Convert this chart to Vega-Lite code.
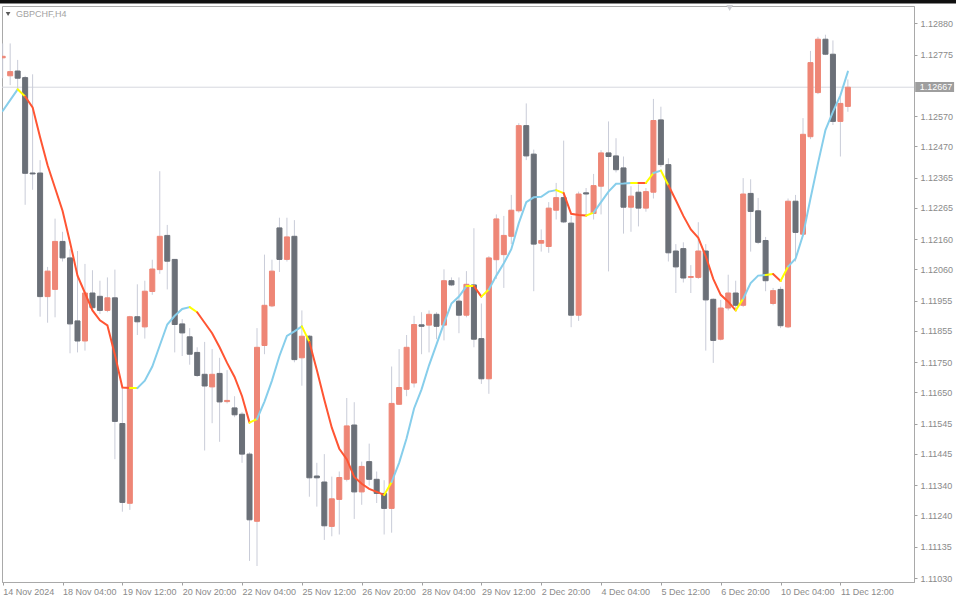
{
"$schema": "https://vega.github.io/schema/vega-lite/v6.json",
"width": 912, "height": 576,
"autosize": {"type": "none"},
"padding": {"left": 2, "top": 6, "right": 42, "bottom": 16},
"background": "#ffffff",
"config": {"view": {"stroke": "#a9a9a9", "strokeWidth": 1}, "font": "Liberation Sans", "axis": {"labelOverlap": false, "labelFlush": false, "labelBound": false}, "scale": {"continuousPadding": 0}},
"datasets": {
"one": [{}],
"candles": [
{"i":0,"o":1.12765,"h":1.12813,"l":1.12697,"c":1.12770},
{"i":1,"o":1.12705,"h":1.12813,"l":1.12674,"c":1.12719},
{"i":2,"o":1.12721,"h":1.12758,"l":1.12664,"c":1.12697},
{"i":3,"o":1.12699,"h":1.12705,"l":1.12275,"c":1.12380},
{"i":4,"o":1.12381,"h":1.12710,"l":1.12325,"c":1.12378},
{"i":5,"o":1.12381,"h":1.12424,"l":1.11902,"c":1.11969},
{"i":6,"o":1.11969,"h":1.12068,"l":1.11882,"c":1.12054},
{"i":7,"o":1.11993,"h":1.12229,"l":1.11900,"c":1.12153},
{"i":8,"o":1.12153,"h":1.12185,"l":1.12086,"c":1.12098},
{"i":9,"o":1.12098,"h":1.12127,"l":1.11780,"c":1.11878},
{"i":10,"o":1.11888,"h":1.12121,"l":1.11783,"c":1.11821},
{"i":11,"o":1.11821,"h":1.12078,"l":1.11789,"c":1.11981},
{"i":12,"o":1.11981,"h":1.12057,"l":1.11923,"c":1.11932},
{"i":13,"o":1.11970,"h":1.12022,"l":1.11911,"c":1.11923},
{"i":14,"o":1.11923,"h":1.12033,"l":1.11917,"c":1.11965},
{"i":15,"o":1.11965,"h":1.12059,"l":1.11427,"c":1.11553},
{"i":16,"o":1.11546,"h":1.11666,"l":1.11252,"c":1.11283},
{"i":17,"o":1.11280,"h":1.11905,"l":1.11258,"c":1.11902},
{"i":18,"o":1.11902,"h":1.12010,"l":1.11841,"c":1.11885},
{"i":19,"o":1.11868,"h":1.12022,"l":1.11829,"c":1.11987},
{"i":20,"o":1.11986,"h":1.12092,"l":1.11975,"c":1.12061},
{"i":21,"o":1.12059,"h":1.12387,"l":1.12045,"c":1.12170},
{"i":22,"o":1.12173,"h":1.12208,"l":1.11993,"c":1.12087},
{"i":23,"o":1.12093,"h":1.12093,"l":1.11783,"c":1.11876},
{"i":24,"o":1.11878,"h":1.11894,"l":1.11771,"c":1.11848},
{"i":25,"o":1.11835,"h":1.11864,"l":1.11742,"c":1.11777},
{"i":26,"o":1.11783,"h":1.11800,"l":1.11701,"c":1.11706},
{"i":27,"o":1.11710,"h":1.11818,"l":1.11456,"c":1.11671},
{"i":28,"o":1.11668,"h":1.11794,"l":1.11547,"c":1.11710},
{"i":29,"o":1.11713,"h":1.11765,"l":1.11485,"c":1.11618},
{"i":30,"o":1.11619,"h":1.11724,"l":1.11613,"c":1.11623},
{"i":31,"o":1.11598,"h":1.11637,"l":1.11567,"c":1.11575},
{"i":32,"o":1.11577,"h":1.11584,"l":1.11415,"c":1.11444},
{"i":33,"o":1.11444,"h":1.11450,"l":1.11088,"c":1.11225},
{"i":34,"o":1.11220,"h":1.11864,"l":1.11071,"c":1.11800},
{"i":35,"o":1.11806,"h":1.12109,"l":1.11777,"c":1.11940},
{"i":36,"o":1.11938,"h":1.12092,"l":1.11934,"c":1.12054},
{"i":37,"o":1.12198,"h":1.12232,"l":1.12051,"c":1.12093},
{"i":38,"o":1.12093,"h":1.12232,"l":1.12086,"c":1.12168},
{"i":39,"o":1.12170,"h":1.12224,"l":1.11750,"c":1.11759},
{"i":40,"o":1.11765,"h":1.11923,"l":1.11672,"c":1.11837},
{"i":41,"o":1.11837,"h":1.11841,"l":1.11302,"c":1.11365},
{"i":42,"o":1.11371,"h":1.11415,"l":1.11269,"c":1.11365},
{"i":43,"o":1.11351,"h":1.11444,"l":1.11158,"c":1.11205},
{"i":44,"o":1.11203,"h":1.11369,"l":1.11170,"c":1.11295},
{"i":45,"o":1.11293,"h":1.11386,"l":1.11176,"c":1.11366},
{"i":46,"o":1.11360,"h":1.11631,"l":1.11353,"c":1.11538},
{"i":47,"o":1.11541,"h":1.11617,"l":1.11228,"c":1.11318},
{"i":48,"o":1.11318,"h":1.11419,"l":1.11275,"c":1.11403},
{"i":49,"o":1.11419,"h":1.11479,"l":1.11339,"c":1.11360},
{"i":50,"o":1.11360,"h":1.11386,"l":1.11281,"c":1.11313},
{"i":51,"o":1.11313,"h":1.11357,"l":1.11176,"c":1.11263},
{"i":52,"o":1.11263,"h":1.11736,"l":1.11182,"c":1.11613},
{"i":53,"o":1.11610,"h":1.11794,"l":1.11608,"c":1.11666},
{"i":54,"o":1.11660,"h":1.11841,"l":1.11637,"c":1.11800},
{"i":55,"o":1.11681,"h":1.11905,"l":1.11666,"c":1.11876},
{"i":56,"o":1.11875,"h":1.11917,"l":1.11777,"c":1.11870},
{"i":57,"o":1.11874,"h":1.11923,"l":1.11783,"c":1.11910},
{"i":58,"o":1.11910,"h":1.11917,"l":1.11827,"c":1.11870},
{"i":59,"o":1.11874,"h":1.12060,"l":1.11823,"c":1.12022},
{"i":60,"o":1.12022,"h":1.12033,"l":1.12004,"c":1.12008},
{"i":61,"o":1.11954,"h":1.12033,"l":1.11847,"c":1.11907},
{"i":62,"o":1.11907,"h":1.12054,"l":1.11900,"c":1.12010},
{"i":63,"o":1.12008,"h":1.12197,"l":1.11800,"c":1.11827},
{"i":64,"o":1.11829,"h":1.11946,"l":1.11678,"c":1.11695},
{"i":65,"o":1.11695,"h":1.12104,"l":1.11645,"c":1.12098},
{"i":66,"o":1.12092,"h":1.12243,"l":1.12028,"c":1.12228},
{"i":67,"o":1.12109,"h":1.12238,"l":1.11998,"c":1.12173},
{"i":68,"o":1.12170,"h":1.12308,"l":1.12144,"c":1.12257},
{"i":69,"o":1.12255,"h":1.12547,"l":1.12249,"c":1.12539},
{"i":70,"o":1.12539,"h":1.12613,"l":1.12424,"c":1.12438},
{"i":71,"o":1.12444,"h":1.12459,"l":1.11987,"c":1.12144},
{"i":72,"o":1.12147,"h":1.12193,"l":1.12119,"c":1.12156},
{"i":73,"o":1.12136,"h":1.12284,"l":1.12115,"c":1.12264},
{"i":74,"o":1.12257,"h":1.12348,"l":1.12226,"c":1.12299},
{"i":75,"o":1.12299,"h":1.12489,"l":1.12214,"c":1.12218},
{"i":76,"o":1.12214,"h":1.12238,"l":1.11867,"c":1.11907},
{"i":77,"o":1.11907,"h":1.12319,"l":1.11888,"c":1.12311},
{"i":78,"o":1.12315,"h":1.12331,"l":1.12238,"c":1.12311},
{"i":79,"o":1.12246,"h":1.12378,"l":1.12226,"c":1.12339},
{"i":80,"o":1.12337,"h":1.12457,"l":1.12243,"c":1.12448},
{"i":81,"o":1.12448,"h":1.12553,"l":1.12053,"c":1.12436},
{"i":82,"o":1.12438,"h":1.12497,"l":1.12383,"c":1.12392},
{"i":83,"o":1.12398,"h":1.12436,"l":1.12179,"c":1.12267},
{"i":84,"o":1.12267,"h":1.12337,"l":1.12185,"c":1.12304},
{"i":85,"o":1.12317,"h":1.12343,"l":1.12203,"c":1.12264},
{"i":86,"o":1.12264,"h":1.12331,"l":1.12252,"c":1.12319},
{"i":87,"o":1.12317,"h":1.12628,"l":1.12296,"c":1.12556},
{"i":88,"o":1.12558,"h":1.12602,"l":1.12401,"c":1.12409},
{"i":89,"o":1.12409,"h":1.12430,"l":1.12086,"c":1.12115},
{"i":90,"o":1.12121,"h":1.12144,"l":1.11981,"c":1.12068},
{"i":91,"o":1.12129,"h":1.12150,"l":1.12016,"c":1.12031},
{"i":92,"o":1.12033,"h":1.12074,"l":1.11981,"c":1.12036},
{"i":93,"o":1.12033,"h":1.12217,"l":1.12028,"c":1.12121},
{"i":94,"o":1.12121,"h":1.12144,"l":1.11789,"c":1.11958},
{"i":95,"o":1.11960,"h":1.11963,"l":1.11748,"c":1.11823},
{"i":96,"o":1.11827,"h":1.11958,"l":1.11823,"c":1.11931},
{"i":97,"o":1.11931,"h":1.12042,"l":1.11923,"c":1.11981},
{"i":98,"o":1.11981,"h":1.12022,"l":1.11923,"c":1.11940},
{"i":99,"o":1.11940,"h":1.12364,"l":1.11934,"c":1.12311},
{"i":100,"o":1.12313,"h":1.12360,"l":1.12119,"c":1.12253},
{"i":101,"o":1.12255,"h":1.12298,"l":1.12144,"c":1.12150},
{"i":102,"o":1.12156,"h":1.12168,"l":1.11987,"c":1.12022},
{"i":103,"o":1.11946,"h":1.11998,"l":1.11940,"c":1.11989},
{"i":104,"o":1.11993,"h":1.12002,"l":1.11864,"c":1.11872},
{"i":105,"o":1.11868,"h":1.12296,"l":1.11864,"c":1.12287},
{"i":106,"o":1.12287,"h":1.12308,"l":1.12086,"c":1.12183},
{"i":107,"o":1.12177,"h":1.12564,"l":1.12173,"c":1.12510},
{"i":108,"o":1.12502,"h":1.12788,"l":1.12494,"c":1.12749},
{"i":109,"o":1.12649,"h":1.12835,"l":1.12644,"c":1.12827},
{"i":110,"o":1.12827,"h":1.12842,"l":1.12774,"c":1.12777},
{"i":111,"o":1.12777,"h":1.12823,"l":1.12541,"c":1.12553},
{"i":112,"o":1.12553,"h":1.12637,"l":1.12436,"c":1.12613},
{"i":113,"o":1.12603,"h":1.12693,"l":1.12585,"c":1.12667}
],
"ma": [
{"r":"A","t":"up","i":0,"v":1.12588},{"r":"A","t":"up","i":1,"v":1.12624},{"r":"A","t":"up","i":2,"v":1.12660},
{"r":"B","t":"turn","i":2,"v":1.12660},{"r":"B","t":"turn","i":3,"v":1.12636},
{"r":"C","t":"down","i":3,"v":1.12636},{"r":"C","t":"down","i":4,"v":1.12600},{"r":"C","t":"down","i":5,"v":1.12500},{"r":"C","t":"down","i":6,"v":1.12407},{"r":"C","t":"down","i":7,"v":1.12331},{"r":"C","t":"down","i":8,"v":1.12255},{"r":"C","t":"down","i":9,"v":1.12150},{"r":"C","t":"down","i":10,"v":1.12039},{"r":"C","t":"down","i":11,"v":1.11981},{"r":"C","t":"down","i":12,"v":1.11923},{"r":"C","t":"down","i":13,"v":1.11890},{"r":"C","t":"down","i":14,"v":1.11873},{"r":"C","t":"down","i":15,"v":1.11775},{"r":"C","t":"down","i":16,"v":1.11666},{"r":"C","t":"down","i":17,"v":1.11664},
{"r":"D","t":"turn","i":17,"v":1.11664},{"r":"D","t":"turn","i":18,"v":1.11664},
{"r":"E","t":"up","i":18,"v":1.11664},{"r":"E","t":"up","i":19,"v":1.11689},{"r":"E","t":"up","i":20,"v":1.11736},{"r":"E","t":"up","i":21,"v":1.11806},{"r":"E","t":"up","i":22,"v":1.11876},{"r":"E","t":"up","i":23,"v":1.11905},{"r":"E","t":"up","i":24,"v":1.11928},{"r":"E","t":"up","i":25,"v":1.11934},
{"r":"F","t":"turn","i":25,"v":1.11934},{"r":"F","t":"turn","i":26,"v":1.11917},
{"r":"G","t":"down","i":26,"v":1.11917},{"r":"G","t":"down","i":27,"v":1.11882},{"r":"G","t":"down","i":28,"v":1.11847},{"r":"G","t":"down","i":29,"v":1.11800},{"r":"G","t":"down","i":30,"v":1.11748},{"r":"G","t":"down","i":31,"v":1.11701},{"r":"G","t":"down","i":32,"v":1.11637},{"r":"G","t":"down","i":33,"v":1.11549},
{"r":"H","t":"turn","i":33,"v":1.11549},{"r":"H","t":"turn","i":34,"v":1.11561},
{"r":"I","t":"up","i":34,"v":1.11561},{"r":"I","t":"up","i":35,"v":1.11619},{"r":"I","t":"up","i":36,"v":1.11689},{"r":"I","t":"up","i":37,"v":1.11771},{"r":"I","t":"up","i":38,"v":1.11838},{"r":"I","t":"up","i":39,"v":1.11853},{"r":"I","t":"up","i":40,"v":1.11870},
{"r":"J","t":"turn","i":40,"v":1.11870},{"r":"J","t":"turn","i":41,"v":1.11818},
{"r":"K","t":"down","i":41,"v":1.11818},{"r":"K","t":"down","i":42,"v":1.11724},{"r":"K","t":"down","i":43,"v":1.11625},{"r":"K","t":"down","i":44,"v":1.11532},{"r":"K","t":"down","i":45,"v":1.11462},{"r":"K","t":"down","i":46,"v":1.11427},{"r":"K","t":"down","i":47,"v":1.11368},{"r":"K","t":"down","i":48,"v":1.11345},{"r":"K","t":"down","i":49,"v":1.11328},{"r":"K","t":"down","i":50,"v":1.11318},{"r":"K","t":"down","i":51,"v":1.11308},
{"r":"L","t":"turn","i":51,"v":1.11308},{"r":"L","t":"turn","i":52,"v":1.11351},
{"r":"M","t":"up","i":52,"v":1.11351},{"r":"M","t":"up","i":53,"v":1.11415},{"r":"M","t":"up","i":54,"v":1.11497},{"r":"M","t":"up","i":55,"v":1.11596},{"r":"M","t":"up","i":56,"v":1.11660},{"r":"M","t":"up","i":57,"v":1.11740},{"r":"M","t":"up","i":58,"v":1.11810},{"r":"M","t":"up","i":59,"v":1.11880},{"r":"M","t":"up","i":60,"v":1.11946},{"r":"M","t":"up","i":61,"v":1.11969},{"r":"M","t":"up","i":62,"v":1.12004},
{"r":"N","t":"turn","i":62,"v":1.12004},{"r":"N","t":"turn","i":63,"v":1.12004},
{"r":"O","t":"down","i":63,"v":1.12004},{"r":"O","t":"down","i":64,"v":1.11969},
{"r":"P","t":"turn","i":64,"v":1.11969},{"r":"P","t":"turn","i":65,"v":1.11993},
{"r":"Q","t":"up","i":65,"v":1.11993},{"r":"Q","t":"up","i":66,"v":1.12039},{"r":"Q","t":"up","i":67,"v":1.12080},{"r":"Q","t":"up","i":68,"v":1.12127},{"r":"Q","t":"up","i":69,"v":1.12214},{"r":"Q","t":"up","i":70,"v":1.12284},{"r":"Q","t":"up","i":71,"v":1.12300},{"r":"Q","t":"up","i":72,"v":1.12302},{"r":"Q","t":"up","i":73,"v":1.12319},{"r":"Q","t":"up","i":74,"v":1.12324},
{"r":"R","t":"turn","i":74,"v":1.12324},{"r":"R","t":"turn","i":75,"v":1.12314},
{"r":"S","t":"down","i":75,"v":1.12314},{"r":"S","t":"down","i":76,"v":1.12245},{"r":"S","t":"down","i":77,"v":1.12241},{"r":"S","t":"down","i":78,"v":1.12239},
{"r":"T","t":"turn","i":78,"v":1.12239},{"r":"T","t":"turn","i":79,"v":1.12249},
{"r":"U","t":"up","i":79,"v":1.12249},{"r":"U","t":"up","i":80,"v":1.12284},{"r":"U","t":"up","i":81,"v":1.12319},{"r":"U","t":"up","i":82,"v":1.12345},{"r":"U","t":"up","i":83,"v":1.12346},{"r":"U","t":"up","i":84,"v":1.12348},
{"r":"V","t":"turn","i":84,"v":1.12348},{"r":"V","t":"turn","i":85,"v":1.12348},
{"r":"W","t":"down","i":85,"v":1.12348},{"r":"W","t":"down","i":86,"v":1.12348},
{"r":"X","t":"turn","i":86,"v":1.12348},{"r":"X","t":"turn","i":87,"v":1.12381},
{"r":"Y","t":"up","i":87,"v":1.12381},{"r":"Y","t":"up","i":88,"v":1.12389},
{"r":"Z","t":"turn","i":88,"v":1.12389},{"r":"Z","t":"turn","i":89,"v":1.12340},
{"r":"AA","t":"down","i":89,"v":1.12340},{"r":"AA","t":"down","i":90,"v":1.12290},{"r":"AA","t":"down","i":91,"v":1.12238},{"r":"AA","t":"down","i":92,"v":1.12193},{"r":"AA","t":"down","i":93,"v":1.12165},{"r":"AA","t":"down","i":94,"v":1.12103},{"r":"AA","t":"down","i":95,"v":1.12028},{"r":"AA","t":"down","i":96,"v":1.11975},{"r":"AA","t":"down","i":97,"v":1.11952},{"r":"AA","t":"down","i":98,"v":1.11923},
{"r":"AB","t":"turn","i":98,"v":1.11923},{"r":"AB","t":"turn","i":99,"v":1.11962},
{"r":"AC","t":"up","i":99,"v":1.11962},{"r":"AC","t":"up","i":100,"v":1.12014},{"r":"AC","t":"up","i":101,"v":1.12039},{"r":"AC","t":"up","i":102,"v":1.12041},
{"r":"AD","t":"turn","i":102,"v":1.12041},{"r":"AD","t":"turn","i":103,"v":1.12044},
{"r":"AE","t":"down","i":103,"v":1.12044},{"r":"AE","t":"down","i":104,"v":1.12021},
{"r":"AF","t":"turn","i":104,"v":1.12021},{"r":"AF","t":"turn","i":105,"v":1.12069},
{"r":"AG","t":"up","i":105,"v":1.12069},{"r":"AG","t":"up","i":106,"v":1.12095},{"r":"AG","t":"up","i":107,"v":1.12174},{"r":"AG","t":"up","i":108,"v":1.12296},{"r":"AG","t":"up","i":109,"v":1.12413},{"r":"AG","t":"up","i":110,"v":1.12524},{"r":"AG","t":"up","i":111,"v":1.12585},{"r":"AG","t":"up","i":112,"v":1.12640},{"r":"AG","t":"up","i":113,"v":1.12719}
]
},
"layer": [
{
"data": {"name": "one"},
"mark": {"type": "rule", "color": "#d6d8df", "strokeWidth": 1},
"encoding": {
"y": {"datum": 1.12667, "type": "quantitative", "title": null,
"scale": {"domain": [1.110177, 1.129377], "nice": false, "zero": false, "padding": 0},
"axis": {"orient": "right", "values": [1.1288,1.12775,1.1257,1.1247,1.12365,1.12265,1.1216,1.1206,1.11955,1.11855,1.1175,1.1165,1.11545,1.11445,1.1134,1.1124,1.11135,1.1103],
"tickCount": 40,
"format": ".5f", "labelAlign": "left", "labelBaseline": "middle", "labelPadding": 3, "tickSize": 3, "tickColor": "#a0a0a0",
"domainColor": "#a9a9a9", "grid": false, "labelColor": "#8a8a8a", "labelFontSize": 9, "labelFont": "Liberation Sans",
"labelOverlap": false, "labelFlush": false, "labelBound": false}}
}
},
{
"data": {"name": "candles"},
"mark": {"type": "rule", "color": "#c9ccd8", "strokeWidth": 1, "clip": true},
"encoding": {
"x": {"field": "i", "type": "quantitative", "title": null,
"scale": {"domain": [-0.094, 121.84], "nice": false, "zero": false, "padding": 0},
"axis": {"values": [0,8,16,24,32,40,48,56,64,72,80,88,96,104,112],
"tickCount": 40,
"labelExpr": "['14 Nov 2024','18 Nov 04:00','19 Nov 12:00','20 Nov 20:00','22 Nov 04:00','25 Nov 12:00','26 Nov 20:00','28 Nov 04:00','29 Nov 12:00','2 Dec 20:00','4 Dec 04:00','5 Dec 12:00','6 Dec 20:00','10 Dec 04:00','11 Dec 12:00'][round(datum.value/8)]",
"labelAlign": "left", "labelBaseline": "top", "labelPadding": 2, "tickSize": 3, "tickColor": "#a0a0a0",
"domainColor": "#a9a9a9", "grid": false, "labelColor": "#8a8a8a", "labelFontSize": 9, "labelFont": "Liberation Sans",
"labelOverlap": false, "labelFlush": false, "labelBound": false}},
"y": {"field": "l", "type": "quantitative", "title": null},
"y2": {"field": "h"}
}
},
{
"data": {"name": "candles"},
"mark": {"type": "bar", "width": 5, "strokeWidth": 1, "clip": true},
"encoding": {
"x": {"field": "i", "type": "quantitative", "title": null},
"y": {"field": "o", "type": "quantitative", "title": null},
"y2": {"field": "c"},
"color": {"condition": {"test": "datum.c >= datum.o", "value": "#ee8676"}, "value": "#6b7078"},
"stroke": {"condition": {"test": "datum.c >= datum.o", "value": "#ee8676"}, "value": "#6b7078"}
}
},
{
"data": {"name": "ma"},
"mark": {"type": "line", "strokeWidth": 2, "clip": true, "strokeCap": "round"},
"encoding": {
"x": {"field": "i", "type": "quantitative", "title": null},
"y": {"field": "v", "type": "quantitative", "title": null},
"detail": {"field": "r"},
"color": {"field": "t", "type": "nominal", "legend": null, "scale": {"domain": ["up","down","turn"], "range": ["#87ceeb","#ff5533","#ffff00"]}}
}
},
{
"data": {"name": "one"},
"mark": {"type": "rect", "color": "#101010", "clip": false},
"encoding": {
"x": {"datum": -1, "type": "quantitative"}, "x2": {"datum": 130},
"y": {"datum": 1.12946, "type": "quantitative"}, "y2": {"datum": 1.1299}
}
},
{
"data": {"name": "one"},
"mark": {"type": "point", "shape": "triangle-down", "filled": true, "size": 22, "color": "#5a5a5a", "opacity": 1, "clip": false},
"encoding": {
"x": {"datum": 0.72, "type": "quantitative"},
"y": {"datum": 1.12911, "type": "quantitative"}
}
},
{
"data": {"name": "one"},
"mark": {"type": "text", "text": "GBPCHF,H4", "align": "left", "baseline": "middle", "fontSize": 9, "font": "Liberation Sans", "color": "#a3a3a3", "clip": false},
"encoding": {
"x": {"datum": 1.78, "type": "quantitative"},
"y": {"datum": 1.12911, "type": "quantitative"}
}
},
{
"data": {"name": "one"},
"mark": {"type": "point", "shape": "triangle-down", "filled": true, "size": 45, "color": "#cfd0d4", "opacity": 1, "clip": false},
"encoding": {
"x": {"datum": 97.2, "type": "quantitative"},
"y": {"datum": 1.12931, "type": "quantitative"}
}
},
{
"data": {"name": "one"},
"mark": {"type": "rect", "color": "#9e9e9e", "clip": false},
"encoding": {
"x": {"datum": 122.0, "type": "quantitative"}, "x2": {"datum": 127.2},
"y": {"datum": 1.12684, "type": "quantitative"}, "y2": {"datum": 1.12651}
}
},
{
"data": {"name": "one"},
"mark": {"type": "text", "text": "1.12667", "align": "left", "baseline": "middle", "fontSize": 9, "font": "Liberation Sans", "color": "#ffffff", "clip": false},
"encoding": {
"x": {"datum": 122.6, "type": "quantitative"},
"y": {"datum": 1.12667, "type": "quantitative"}
}
}
]
}
